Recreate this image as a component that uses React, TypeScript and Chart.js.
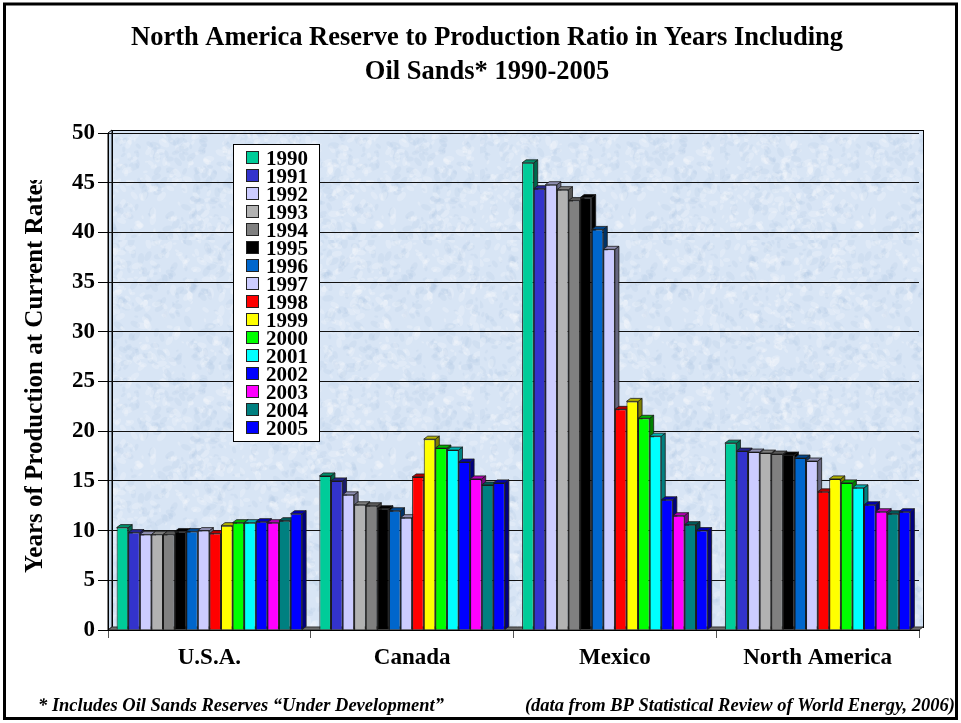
import { useEffect, useRef } from 'react';
import { Chart, registerables } from 'chart.js';

Chart.register(...registerables);

const WIDTH = 961;
const HEIGHT = 723;

// Regions along the category axis
const regions = ['U.S.A.', 'Canada', 'Mexico', 'North America'];

// One series per year
const years = [
  '1990', '1991', '1992', '1993', '1994', '1995', '1996', '1997',
  '1998', '1999', '2000', '2001', '2002', '2003', '2004', '2005',
];

const yearColors = [
  '#00cc99', '#3333cc', '#ccccff', '#b2b2b2', '#808080', '#000000', '#0066cc', '#ccccff',
  '#ff0000', '#ffff00', '#00ff00', '#00ffff', '#0000ff', '#ff00ff', '#008080', '#0000ff',
];

// Reserve to production ratio (years), 1990 through 2005, per region
const usaRatios = [10.3, 9.8, 9.6, 9.6, 9.6, 9.9, 9.9, 10.0, 9.7, 10.5, 10.8, 10.8, 10.9, 10.8, 11.0, 11.7];
const canadaRatios = [15.5, 15.0, 13.6, 12.6, 12.5, 12.2, 12.0, 11.3, 15.4, 19.2, 18.3, 18.1, 16.9, 15.2, 14.6, 14.8];
const mexicoRatios = [47.0, 44.4, 44.8, 44.3, 43.2, 43.5, 40.3, 38.3, 22.2, 23.0, 21.3, 19.5, 13.1, 11.5, 10.6, 10.0];
const northAmericaRatios = [18.8, 18.0, 17.9, 17.8, 17.7, 17.6, 17.3, 17.0, 13.9, 15.2, 14.8, 14.3, 12.6, 11.9, 11.7, 11.9];

const yTicks = [0, 5, 10, 15, 20, 25, 30, 35, 40, 45, 50];

const titleLines = [
  'North America Reserve to Production Ratio in Years Including',
  'Oil Sands* 1990-2005',
];
const yAxisTitle = 'Years of Production at Current Rates';
const footnoteLeft = '* Includes Oil Sands Reserves \u201cUnder Development\u201d';
const footnoteRight = '(data from BP Statistical Review of World Energy, 2006)';

const SERIF = '"Liberation Serif", "Times New Roman", serif';
const DX = 4; // depth offset of the 3-D bars and walls
const DY = 3;

function shade(hex: string, k: number): string {
  const n = parseInt(hex.slice(1), 16);
  const r = Math.round(((n >> 16) & 255) * k);
  const g = Math.round(((n >> 8) & 255) * k);
  const b = Math.round((n & 255) * k);
  return `rgb(${r},${g},${b})`;
}

// Soft mottled light-blue fill for the back wall
function makeWallTexture(ctx: CanvasRenderingContext2D): CanvasPattern | string {
  const c = document.createElement('canvas');
  c.width = 240;
  c.height = 240;
  const g = c.getContext('2d');
  if (!g) return '#d9e6f5';
  g.fillStyle = '#d8e5f5';
  g.fillRect(0, 0, 240, 240);
  let seed = 20061;
  const next = () => {
    seed = (seed * 16807) % 2147483647;
    return seed / 2147483647;
  };
  for (let i = 0; i < 1400; i++) {
    const x = next() * 240;
    const y = next() * 240;
    const r = 0.8 + next() * 2.5;
    g.fillStyle = next() < 0.55 ? 'rgba(255,255,255,0.22)' : 'rgba(165,190,222,0.16)';
    g.beginPath();
    g.ellipse(x, y, r * 1.8, r, next() * Math.PI, 0, Math.PI * 2);
    g.fill();
  }
  return ctx.createPattern(c, 'repeat') || '#d9e6f5';
}

export default function App() {
  const canvasRef = useRef<HTMLCanvasElement | null>(null);

  useEffect(() => {
    const canvas = canvasRef.current;
    if (!canvas) return;
    const ctx0 = canvas.getContext('2d');
    if (!ctx0) return;
    const wallFill = makeWallTexture(ctx0);

    const byRegion = [usaRatios, canadaRatios, mexicoRatios, northAmericaRatios];
    const datasets = years.map((year, i) => ({
      label: year,
      data: byRegion.map((r) => r[i]),
      backgroundColor: yearColors[i],
      borderColor: '#1a1a1a',
      borderWidth: 1,
      barPercentage: 1.0,
      categoryPercentage: 0.915,
    }));

    const decor = {
      id: 'decor',
      beforeDraw(chart: any) {
        const { ctx, chartArea: a } = chart;
        ctx.save();
        ctx.fillStyle = '#ffffff';
        ctx.fillRect(0, 0, WIDTH, HEIGHT);
        // back wall
        ctx.fillStyle = wallFill;
        ctx.fillRect(a.left + DX, a.top - DY, a.right - a.left, a.bottom - a.top);
        ctx.strokeStyle = '#000';
        ctx.lineWidth = 1;
        ctx.strokeRect(a.left + DX + 0.5, a.top - DY + 0.5, a.right - a.left, a.bottom - a.top);
        // side wall
        ctx.beginPath();
        ctx.moveTo(a.left, a.top);
        ctx.lineTo(a.left + DX, a.top - DY);
        ctx.lineTo(a.left + DX, a.bottom - DY);
        ctx.lineTo(a.left, a.bottom);
        ctx.closePath();
        ctx.fillStyle = '#c9dbef';
        ctx.fill();
        ctx.stroke();
        // floor
        ctx.beginPath();
        ctx.moveTo(a.left, a.bottom);
        ctx.lineTo(a.left + DX, a.bottom - DY);
        ctx.lineTo(a.right + DX, a.bottom - DY);
        ctx.lineTo(a.right, a.bottom);
        ctx.closePath();
        ctx.fillStyle = '#6e6e6e';
        ctx.fill();
        ctx.strokeStyle = '#333';
        ctx.stroke();
        ctx.restore();
      },
      beforeDatasetsDraw(chart: any) {
        const { ctx } = chart;
        ctx.save();
        ctx.lineWidth = 0.8;
        ctx.strokeStyle = '#1a1a1a';
        for (let d = 0; d < chart.data.datasets.length; d++) {
          const meta = chart.getDatasetMeta(d);
          const color = yearColors[d];
          meta.data.forEach((el: any) => {
            const { x, y, base, width } = el.getProps(['x', 'y', 'base', 'width'], true);
            const l = x - width / 2;
            const r = x + width / 2;
            // right side face
            ctx.beginPath();
            ctx.moveTo(r, y);
            ctx.lineTo(r + DX, y - DY);
            ctx.lineTo(r + DX, base - DY);
            ctx.lineTo(r, base);
            ctx.closePath();
            ctx.fillStyle = shade(color, 0.5);
            ctx.fill();
            ctx.stroke();
            // top face
            ctx.beginPath();
            ctx.moveTo(l, y);
            ctx.lineTo(l + DX, y - DY);
            ctx.lineTo(r + DX, y - DY);
            ctx.lineTo(r, y);
            ctx.closePath();
            ctx.fillStyle = shade(color, 0.7);
            ctx.fill();
            ctx.stroke();
          });
        }
        ctx.restore();
      },
      afterDraw(chart: any) {
        const { ctx } = chart;
        ctx.save();

        // title
        ctx.fillStyle = '#000';
        ctx.font = `bold 26.5px ${SERIF}`;
        ctx.textAlign = 'center';
        ctx.textBaseline = 'alphabetic';
        ctx.fillText(titleLines[0], 487, 45);
        ctx.fillText(titleLines[1], 487, 79);

        // y axis title, cut off at the top edge of its band
        ctx.save();
        ctx.beginPath();
        ctx.rect(0, 180, 110, HEIGHT - 180);
        ctx.clip();
        ctx.translate(42, 573);
        ctx.rotate(-Math.PI / 2);
        ctx.textAlign = 'left';
        ctx.font = `bold 25px ${SERIF}`;
        ctx.fillText(yAxisTitle, 0, 0);
        ctx.restore();

        // legend box
        const lx = 233;
        const ly = 144;
        ctx.fillStyle = '#ffffff';
        ctx.fillRect(lx, ly, 86, 297);
        ctx.strokeStyle = '#000';
        ctx.lineWidth = 1;
        ctx.strokeRect(lx + 0.5, ly + 0.5, 86, 297);
        ctx.font = `bold 21px ${SERIF}`;
        ctx.textAlign = 'left';
        years.forEach((year, i) => {
          const cy = 157 + i * 18;
          ctx.fillStyle = yearColors[i];
          ctx.fillRect(246, cy - 6, 12, 12);
          ctx.strokeStyle = '#222';
          ctx.strokeRect(246.5, cy - 5.5, 12, 12);
          ctx.fillStyle = '#000';
          ctx.fillText(year, 266, cy + 7.5);
        });

        // footnotes
        ctx.font = `italic bold 18.5px ${SERIF}`;
        ctx.textAlign = 'left';
        ctx.fillText(footnoteLeft, 38, 711);
        ctx.textAlign = 'right';
        ctx.fillText(footnoteRight, 955, 711);

        // outer frame
        ctx.strokeStyle = '#000';
        ctx.lineWidth = 3;
        ctx.strokeRect(4.5, 4, 952, 714.5);
        ctx.restore();
      },
    };

    const chart = new Chart(canvas, {
      type: 'bar',
      data: { labels: regions, datasets },
      options: {
        responsive: false,
        animation: false,
        layout: { padding: { left: 0, top: 133, right: 42, bottom: 53 } },
        plugins: {
          legend: { display: false },
          title: { display: false },
          tooltip: { enabled: false },
        },
        scales: {
          x: {
            afterFit: (s: any) => {
              s.height = 40;
            },
            grid: {
              display: true,
              offset: true,
              drawOnChartArea: false,
              drawTicks: true,
              tickLength: 8,
              color: '#555',
            },
            border: { display: true, color: '#000', width: 1 },
            ticks: {
              color: '#000',
              padding: 6,
              font: { family: SERIF, size: 23, weight: 'bold' },
            },
          },
          y: {
            min: 0,
            max: 50,
            afterFit: (s: any) => {
              s.width = 108;
            },
            afterBuildTicks: (s: any) => {
              s.ticks = yTicks.map((v) => ({ value: v }));
            },
            grid: {
              color: '#111',
              lineWidth: 1,
              drawTicks: true,
              tickLength: 10,
              tickColor: '#000',
            },
            border: { display: true, color: '#000', width: 1 },
            ticks: {
              color: '#000',
              padding: 3,
              font: { family: SERIF, size: 23, weight: 'bold' },
            },
          },
        },
      },
      plugins: [decor],
    } as any);

    return () => chart.destroy();
  }, []);

  return (
    <div style={{ position: 'fixed', left: 0, top: 0, width: WIDTH, height: HEIGHT, background: '#fff' }}>
      <canvas ref={canvasRef} width={WIDTH} height={HEIGHT} style={{ display: 'block' }} />
    </div>
  );
}
